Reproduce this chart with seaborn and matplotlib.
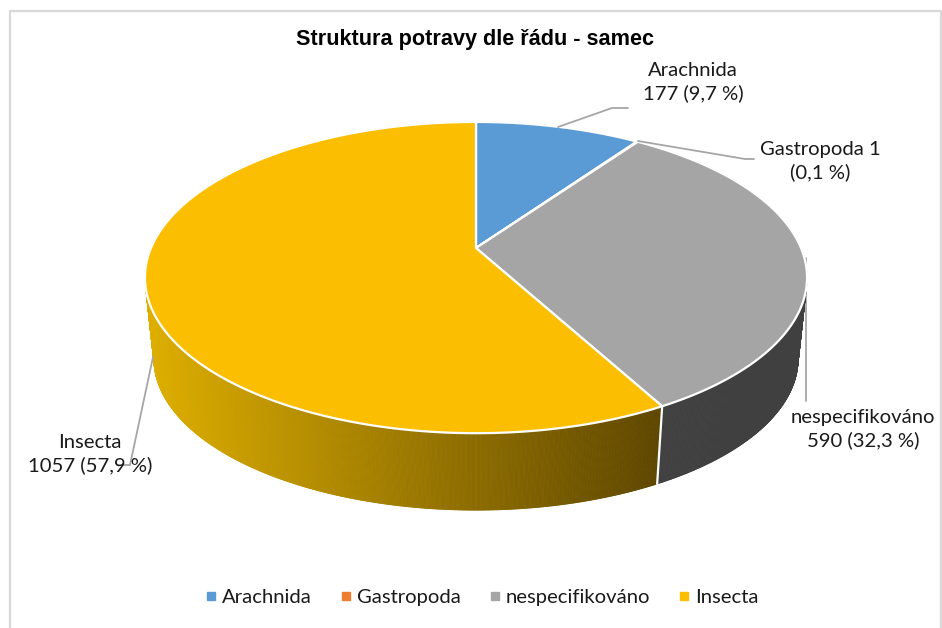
import numpy as np
import matplotlib
matplotlib.use("Agg")
import matplotlib.pyplot as plt
import seaborn as sns
from matplotlib.collections import PolyCollection
from matplotlib.lines import Line2D

categories = ["Arachnida", "Gastropoda", "nespecifikováno", "Insecta"]
values = [177, 1, 590, 1057]
slice_labels = ["Arachnida\n177 (9,7 %)", "Gastropoda 1\n(0,1 %)",
                "nespecifikováno\n590 (32,3 %)", "Insecta\n1057 (57,9 %)"]
colors = ["#5B9BD5", "#ED7D31", "#A5A5A5", "#FCBE00"]
side_colors = ["#2E6DA4", "#A3561F", "#404040", None]

# perspective of the pie, everything in pixels of the 942x628 picture
CX, CY = 476, 248
RX, RY, PERSP = 325, 150, 0.19
SHRINK, VANISH_Y = 0.973, 3283


def top_rim(frac):
    # fraction of the pie clockwise from 12 o'clock -> point on the top rim
    a = 2 * np.pi * np.asarray(frac)
    u, v = np.sin(a), np.cos(a)
    d = 1 + PERSP * v
    return CX + RX * u / d, CY - RY * v / d


def bottom_rim(frac):
    x, y = top_rim(frac)
    return CX + (x - CX) * SHRINK, VANISH_Y + (y - VANISH_Y) * SHRINK


sns.set_theme(style="white")
plt.rcParams["font.family"] = ["Lato", "DejaVu Sans"]

fig = plt.figure(figsize=(9.42, 6.28), dpi=100)
ax = fig.add_axes([0, 0, 1, 1])
ax.set_xlim(0, 942)
ax.set_ylim(628, 0)
ax.axis("off")

# chart frame, cut by the bottom of the picture
ax.plot([10, 10, 940.5, 940.5], [628, 10.5, 10.5, 628], color="#D9D9D9", lw=1.6)

edges = np.concatenate([[0], np.cumsum(values)]) / sum(values)
gradient = sns.blend_palette(["#DDAE00", "#5E4600"], n_colors=256)

# side walls first
for i in range(len(values)):
    f = np.linspace(edges[i], edges[i + 1], max(3, int((edges[i + 1] - edges[i]) * 1500)))
    xt, yt = top_rim(f)
    xb, yb = bottom_rim(f)
    quads, quad_colors = [], []
    for j in range(len(f) - 1):
        quads.append([(xt[j], yt[j]), (xt[j + 1], yt[j + 1]), (xb[j + 1], yb[j + 1]), (xb[j], yb[j])])
        if side_colors[i] is None:
            pos = np.clip((xt[j] - 145) / (662 - 145), 0, 1)
            quad_colors.append(gradient[int(pos * 255)])
        else:
            quad_colors.append(side_colors[i])
    ax.add_collection(PolyCollection(quads, facecolors=quad_colors, edgecolors=quad_colors,
                                     linewidths=0.6, zorder=2))

# top face
for i in range(len(values)):
    f = np.linspace(edges[i], edges[i + 1], max(3, int((edges[i + 1] - edges[i]) * 720)))
    xt, yt = top_rim(f)
    ax.fill(np.r_[CX, xt], np.r_[CY, yt], facecolor=colors[i], edgecolor="white",
            lw=1.6, joinstyle="round", zorder=3)

# white seam between the two visible walls
seam = edges[3]
xs, ys = top_rim(seam)
xe, ye = bottom_rim(seam)
ax.plot([xs, xe], [ys, ye], color="white", lw=1.6, zorder=4)

# leader lines
leader = "#A6A6A6"
ax.plot([558, 612, 628], [127, 108, 108], color=leader, lw=1.3, zorder=5)
ax.plot([638, 745, 754], [141, 159, 159], color=leader, lw=1.3, zorder=5)
ax.plot([806, 806], [258, 401], color=leader, lw=1.3, zorder=1)
ax.plot([153, 130, 118], [357, 465, 465], color=leader, lw=1.3, zorder=5)

ax.text(475, 40, "Struktura potravy dle řádu - samec", ha="center", va="center",
        fontsize=15.6, fontweight="bold", family=["Liberation Sans"], color="black")

label_pos = [(693, 82), (820, 161), (863, 429), (90, 454)]
for text, (lx, ly) in zip(slice_labels, label_pos):
    ax.text(lx, ly, text, ha="center", va="center", fontsize=14.6, color="#1A1A1A",
            linespacing=1.3, zorder=6)

handles = [Line2D([], [], ls="none", marker="s", ms=6, color=c) for c in colors]
ax.legend(handles, categories, loc="center", bbox_to_anchor=(481, 597),
          bbox_transform=ax.transData, ncol=4, frameon=False, fontsize=14.6,
          handlelength=0.8, handletextpad=0.15, columnspacing=1.27, labelcolor="#1A1A1A")

fig.savefig("out.png", dpi=100)
